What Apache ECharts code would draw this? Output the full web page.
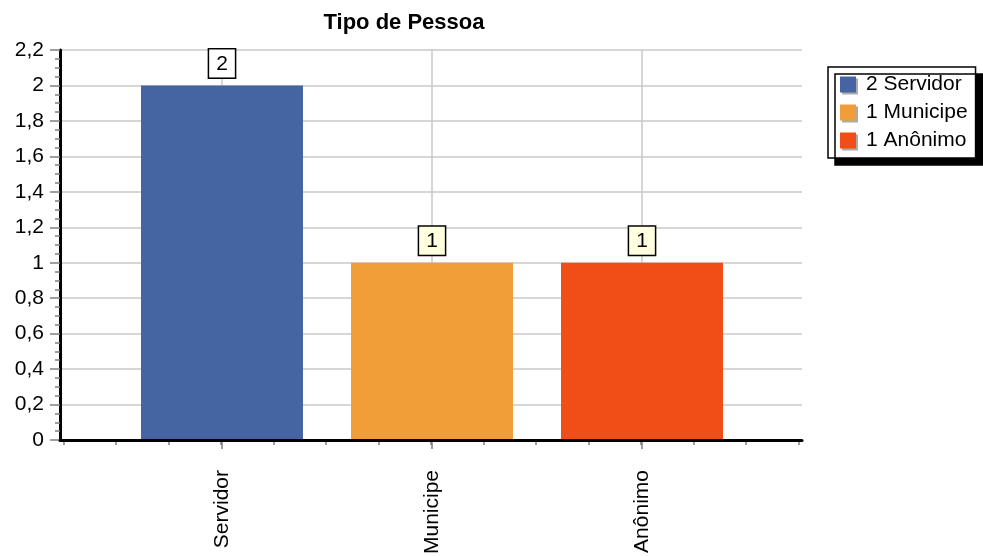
<!DOCTYPE html>
<html>
<head>
<meta charset="utf-8">
<script src="https://cdn.jsdelivr.net/npm/echarts@6/dist/echarts.min.js"></script>
<style>
html, body { margin: 0; padding: 0; background: #ffffff; }
#c { width: 983px; height: 556px; }
</style>
</head>
<body>
<div id="c"></div>
<script>
// ---- data ----
const titleText = 'Tipo de Pessoa';
const categories = ['Servidor', 'Municipe', 'Anônimo'];
const values = [2, 1, 1];
const yTickLabels = ['0', '0,2', '0,4', '0,6', '0,8', '1', '1,2', '1,4', '1,6', '1,8', '2', '2,2'];
const yMin = 0;
const yMax = 2.2;
const yStep = 0.2;

// ---- styles ----
const colors = ['#4465A1', '#F29E38', '#F04E16'];
const labelBackgrounds = ['#ffffff', '#ffffe0', '#ffffe0'];
const FONT = 'Liberation Sans';
const FS = 21;
const GRID_COLOR = '#c8c8c8';
const TICK_COLOR = '#808080';

const chart = echarts.init(document.getElementById('c'), null, { renderer: 'canvas' });

const barSeries = categories.map((name, i) => ({
  name: name,
  type: 'bar',
  xAxisIndex: 1,
  yAxisIndex: 1,
  stack: 'total',
  barWidth: 162,
  data: categories.map((c, j) => (j === i ? values[i] : '-')),
  itemStyle: { color: colors[i] },
  label: {
    show: true,
    position: 'top',
    distance: 8,
    color: '#000',
    fontFamily: FONT,
    fontSize: FS,
    lineHeight: 21,
    backgroundColor: labelBackgrounds[i],
    borderColor: '#000',
    borderWidth: 1.5,
    padding: [4, 7, 3, 7]
  },
  emphasis: { disabled: true }
}));

const option = {
  animation: false,
  backgroundColor: '#ffffff',
  title: {
    text: titleText,
    left: 404,
    top: 12,
    textAlign: 'center',
    padding: 0,
    textStyle: { fontFamily: FONT, fontSize: 22, fontWeight: 'bold', color: '#000' }
  },
  legend: {
    orient: 'vertical',
    left: 828,
    top: 67,
    icon: 'rect',
    itemWidth: 16,
    itemHeight: 16,
    itemGap: 7,
    padding: [7, 8, 7, 12],
    backgroundColor: '#ffffff',
    borderColor: '#000',
    borderWidth: 1.5,
    shadowColor: '#000',
    shadowBlur: 0,
    shadowOffsetX: 7,
    shadowOffsetY: 7,
    selectedMode: false,
    itemStyle: { shadowColor: '#aaaaaa', shadowBlur: 0, shadowOffsetX: 2, shadowOffsetY: 2 },
    textStyle: { fontFamily: FONT, fontSize: FS, lineHeight: 20, color: '#000', padding: [0, 0, 0, 5] },
    formatter: function (name) { return values[categories.indexOf(name)] + ' ' + name; },
    data: categories
  },
  grid: [
    { left: 60, top: 50, width: 742, height: 390, outerBoundsMode: 'none' },
    { left: 117, top: 50, width: 630, height: 390, outerBoundsMode: 'none' },
    { left: 63.5, top: 50, width: 735, height: 390, outerBoundsMode: 'none' }
  ],
  xAxis: [
    {
      gridIndex: 0, type: 'value', min: 0, max: 1, z: 10,
      axisLine: { show: true, onZero: false, lineStyle: { color: '#000', width: 3 } },
      axisTick: { show: false }, axisLabel: { show: false }, splitLine: { show: false }
    },
    {
      gridIndex: 1, type: 'category', data: categories,
      axisLine: { show: false },
      axisTick: { show: true, alignWithLabel: true, length: 9, lineStyle: { color: TICK_COLOR, width: 1.5 } },
      axisLabel: { rotate: 90, margin: 30, fontFamily: FONT, fontSize: FS, color: '#000' },
      splitLine: { show: true, alignWithLabel: true, lineStyle: { color: GRID_COLOR, width: 1.5 } }
    },
    {
      gridIndex: 2, type: 'value', min: 0, max: 14, interval: 1,
      axisLine: { show: false },
      axisTick: { show: true, length: 5, lineStyle: { color: TICK_COLOR, width: 1.5 } },
      axisLabel: { show: false }, splitLine: { show: false }
    }
  ],
  yAxis: [
    {
      gridIndex: 0, type: 'value', min: yMin, max: yMax, interval: yStep,
      axisLine: { show: true, lineStyle: { color: '#000', width: 3 } },
      axisTick: { show: true, length: 10, lineStyle: { color: TICK_COLOR, width: 1.5 } },
      minorTick: { show: true, splitNumber: 4, length: 5, lineStyle: { color: TICK_COLOR, width: 1.5 } },
      axisLabel: {
        margin: 16, fontFamily: FONT, fontSize: FS, color: '#000',
        formatter: function (v) { return yTickLabels[Math.round((v - yMin) / yStep)]; }
      },
      splitLine: { show: true, lineStyle: { color: GRID_COLOR, width: 1.5 } }
    },
    { gridIndex: 1, type: 'value', min: yMin, max: yMax, show: false },
    { gridIndex: 2, type: 'value', min: yMin, max: yMax, show: false }
  ],
  series: barSeries
};

chart.setOption(option);
</script>
</body>
</html>
